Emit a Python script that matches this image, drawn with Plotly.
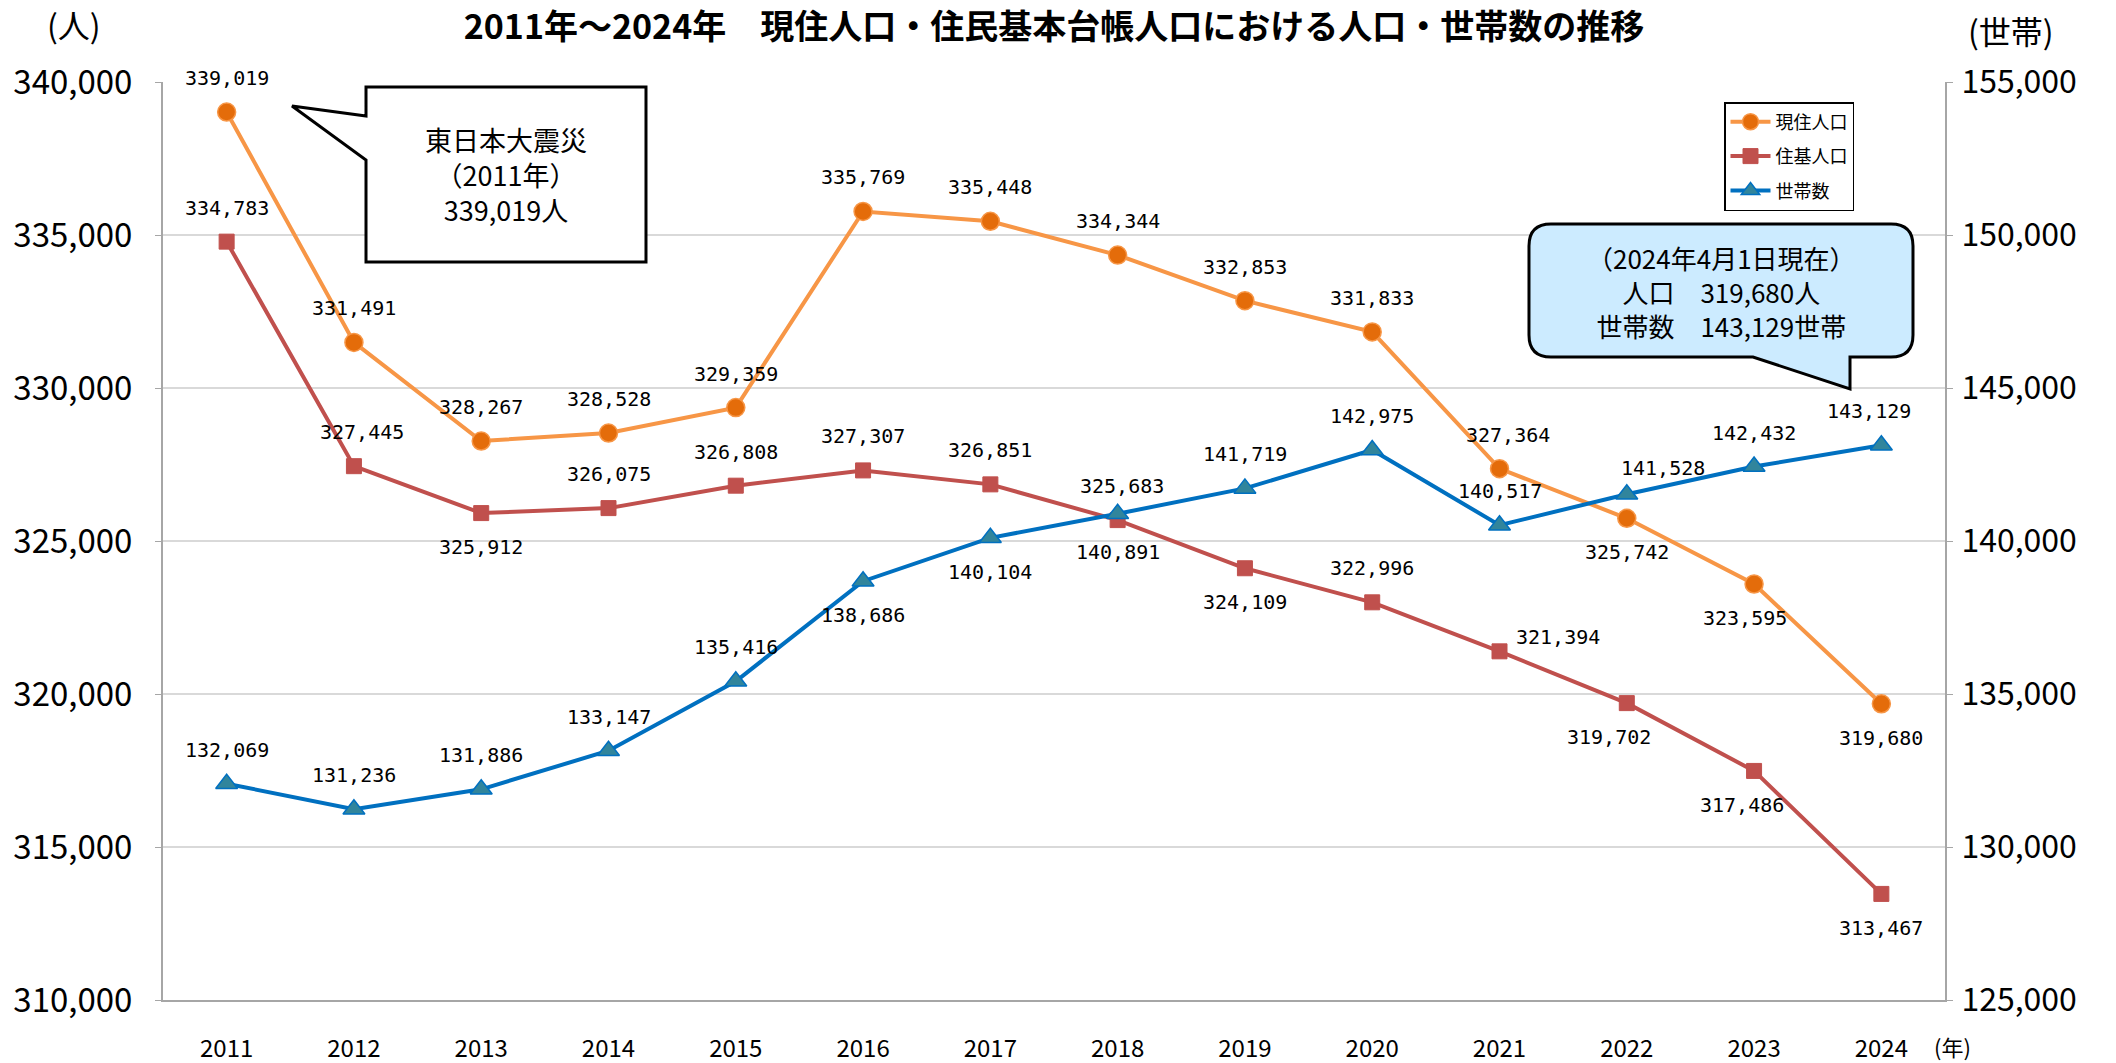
import plotly.graph_objects as go

years = ["2011", "2012", "2013", "2014", "2015", "2016", "2017",
         "2018", "2019", "2020", "2021", "2022", "2023", "2024"]
genju = [339019, 331491, 328267, 328528, 329359, 335769, 335448,
         334344, 332853, 331833, 327364, 325742, 323595, 319680]
jukiki = [334783, 327445, 325912, 326075, 326808, 327307, 326851,
          325683, 324109, 322996, 321394, 319702, 317486, 313467]
setai = [132069, 131236, 131886, 133147, 135416, 138686, 140104,
         140891, 141719, 142975, 140517, 141528, 142432, 143129]

series_names = ["現住人口", "住基人口", "世帯数"]
title_text = "2011年～2024年　現住人口・住民基本台帳人口における人口・世帯数の推移"

# label placement per point: (dx, dy) in pixels (dy positive = up)
U, D = 34, -34
genju_pos = [(0, U), (0, U), (0, U), (0, U), (0, U), (0, U), (0, U),
             (0, U), (0, U), (0, U), (8, U), (0, D), (-9, D), (0, D)]
jukiki_pos = [(0, U), (8, U), (0, D), (0, U), (0, U), (0, U), (0, U),
              (4, U), (0, D), (0, U), (58, 14), (-18, D), (-12, D), (0, D)]
setai_pos = [(0, U), (0, U), (0, U), (0, U), (0, U), (0, D), (0, D),
             (0, -38), (0, U), (0, U), (0, U), (36, 26), (0, U), (-12, U)]

W, H = 2116, 1063
L, R, T, B = 163, 1945, 82, 1000


def px(x):
    return (x - L) / (R - L)


def py(y):
    return (B - y) / (B - T)


FONT = "Noto Sans CJK JP"
LABEL_FONT = "DejaVu Sans Mono"

fig = go.Figure()
fig.add_trace(go.Scatter(
    x=years, y=genju, name=series_names[0], mode="lines+markers",
    legendgroup="a",
    line=dict(color="#F79646", width=4),
    marker=dict(symbol="circle", size=18, color="#E46C0A",
                line=dict(color="#F79646", width=1.5)),
))
fig.add_trace(go.Scatter(
    x=years, y=jukiki, name=series_names[1], mode="lines+markers",
    legendgroup="b",
    line=dict(color="#C0504D", width=4),
    marker=dict(symbol="square", size=15, color="#C0504D",
                line=dict(color="#C0504D", width=1)),
))
fig.add_trace(go.Scatter(
    x=years, y=setai, name=series_names[2], mode="lines+markers", yaxis="y2",
    legendgroup="c",
    line=dict(color="#0070C0", width=4),
    marker=dict(symbol="triangle-up", size=19, color="#31859C",
                line=dict(color="#0070C0", width=1.5)),
))

annotations = []
for vals, pos, yref in [(genju, genju_pos, "y"), (jukiki, jukiki_pos, "y"),
                        (setai, setai_pos, "y2")]:
    for i, (v, (dx, dy)) in enumerate(zip(vals, pos)):
        annotations.append(dict(
            x=i, y=v, xref="x", yref=yref, text=f"{v:,}", showarrow=False,
            xshift=dx, yshift=dy, xanchor="center", yanchor="middle",
            font=dict(family=LABEL_FONT, size=20, color="#000000"),
        ))

# unit labels
annotations += [
    dict(x=px(74), y=py(24), xref="paper", yref="paper", text="(人)",
         showarrow=False, xanchor="center", yanchor="middle",
         font=dict(family=FONT, size=32, color="#000")),
    dict(x=px(2011), y=py(30), xref="paper", yref="paper", text="(世帯)",
         showarrow=False, xanchor="center", yanchor="middle",
         font=dict(family=FONT, size=32, color="#000")),
    dict(x=px(1952), y=py(1046), xref="paper", yref="paper", text="(年)",
         showarrow=False, xanchor="center", yanchor="middle",
         font=dict(family=FONT, size=22, color="#000")),
]

# callout texts
annotations.append(dict(
    x=px(506), y=py(174), xref="paper", yref="paper",
    text="東日本大震災<br>（2011年）<br>339,019人", showarrow=False,
    xanchor="center", yanchor="middle",
    font=dict(family=FONT, size=27, color="#000"),
))
annotations.append(dict(
    x=px(1721), y=py(291), xref="paper", yref="paper",
    text="（2024年4月1日現在）<br>人口　319,680人<br>世帯数　143,129世帯",
    showarrow=False, xanchor="center", yanchor="middle",
    font=dict(family=FONT, size=26, color="#000"),
))


def P(x, y):
    return f"{px(x):.5f},{py(y):.5f}"


left_path = ("M " + P(366, 87) + " L " + P(646, 87) + " L " + P(646, 262) +
             " L " + P(366, 262) + " L " + P(366, 160) + " L " + P(292, 106) +
             " L " + P(366, 116) + " Z")
r = 22
x0, x1, y0, y1 = 1529, 1913, 224, 357
right_path = ("M " + P(x0 + r, y0) + " L " + P(x1 - r, y0) +
              " Q " + P(x1, y0) + " " + P(x1, y0 + r) +
              " L " + P(x1, y1 - r) +
              " Q " + P(x1, y1) + " " + P(x1 - r, y1) +
              " L " + P(1850, y1) + " L " + P(1850, 389) + " L " + P(1753, y1) +
              " L " + P(x0 + r, y1) +
              " Q " + P(x0, y1) + " " + P(x0, y1 - r) +
              " L " + P(x0, y0 + r) +
              " Q " + P(x0, y0) + " " + P(x0 + r, y0) + " Z")

shapes = [
    dict(type="path", path=left_path, xref="paper", yref="paper",
         fillcolor="#FFFFFF", line=dict(color="#000000", width=3), layer="above"),
    dict(type="path", path=right_path, xref="paper", yref="paper",
         fillcolor="#CCEBFF", line=dict(color="#000000", width=3), layer="above"),
]

fig.update_layout(
    width=W, height=H,
    margin=dict(l=L, r=W - R, t=T, b=H - B, autoexpand=False),
    paper_bgcolor="#FFFFFF", plot_bgcolor="#FFFFFF",
    font=dict(family=FONT, color="#000000"),
    title=dict(text="<b>" + title_text + "</b>", x=1054 / W, xref="container",
               xanchor="center", y=1 - 27 / H, yref="container", yanchor="middle",
               font=dict(family=FONT, size=34, color="#000")),
    showlegend=True,
    legend=dict(x=px(1724), y=py(102), xanchor="left", yanchor="top",
                bordercolor="#000000", borderwidth=1.5, bgcolor="#FFFFFF",
                font=dict(family=FONT, size=18, color="#000"),
                tracegroupgap=8, itemwidth=40),
    xaxis=dict(type="category", range=[-0.5, 13.5], showgrid=False,
               showline=True, linecolor="#A6A6A6", linewidth=2,
               ticks="", tickfont=dict(family=FONT, size=24, color="#000"),
               ticklabelstandoff=26, zeroline=False, automargin=False),
    yaxis=dict(range=[310000, 340000], dtick=5000, tickformat=",",
               showgrid=True, gridcolor="#D9D9D9", gridwidth=2,
               showline=True, linecolor="#A6A6A6", linewidth=2,
               ticks="outside", ticklen=6, tickcolor="#A6A6A6",
               tickfont=dict(family=FONT, size=33, color="#000"),
               ticklabelstandoff=16, zeroline=False, automargin=False),
    yaxis2=dict(range=[125000, 155000], dtick=5000, tickformat=",",
                overlaying="y", side="right", showgrid=False,
                showline=True, linecolor="#A6A6A6", linewidth=2,
                ticks="outside", ticklen=6, tickcolor="#A6A6A6",
                tickfont=dict(family=FONT, size=32, color="#000"),
                ticklabelstandoff=2, zeroline=False, automargin=False),
    annotations=annotations,
    shapes=shapes,
)

fig.write_html(
    "out.html",
    config={"displayModeBar": False},
    post_script="document.body.style.margin='0';document.body.style.overflow='hidden';",
)
